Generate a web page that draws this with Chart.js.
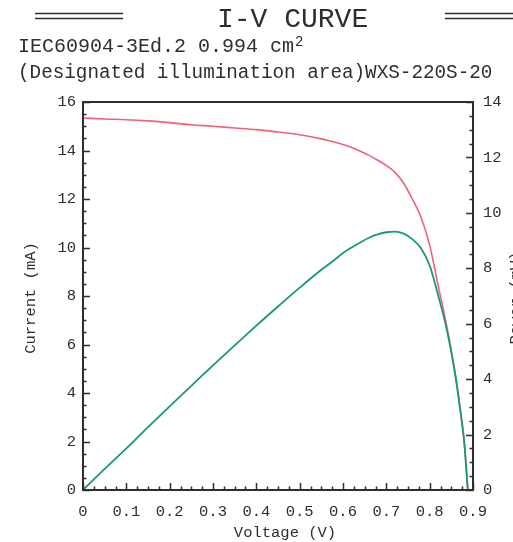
<!DOCTYPE html>
<html>
<head>
<meta charset="utf-8">
<script src="https://cdn.jsdelivr.net/npm/chart.js@4.4.1/dist/chart.umd.min.js"></script>
<style>
  html, body { margin: 0; padding: 0; background: #fff; overflow: hidden; }
  #c-iv { display: block; }
</style>
</head>
<body>
<canvas id="c-iv" width="513" height="542"></canvas>
<script>
// values
var voltage = [0, 0.05, 0.1, 0.15, 0.2, 0.25, 0.3, 0.35, 0.4, 0.45, 0.5, 0.55, 0.58, 0.6, 0.62,
  0.64, 0.66, 0.68, 0.7, 0.72, 0.74, 0.76, 0.78, 0.8, 0.82, 0.84, 0.86, 0.87, 0.88, 0.888]
var current = [15.34, 15.3, 15.27, 15.22, 15.15, 15.06, 15.0, 14.93, 14.86, 14.76, 14.65, 14.48, 14.35, 14.25, 14.12,
  13.97, 13.8, 13.6, 13.38, 13.1, 12.65, 12.0, 11.25, 10.1, 8.4, 6.7, 4.7, 3.4, 1.9, 0]
var power = [0, 0.76, 1.5, 2.27, 3.02, 3.76, 4.5, 5.22, 5.93, 6.62, 7.3, 7.95, 8.3, 8.55, 8.75,
  8.93, 9.1, 9.22, 9.3, 9.32, 9.25, 9.05, 8.72, 8.1, 7.0, 5.75, 4.05, 2.95, 1.7, 0]

var FONT = '"Liberation Mono", "DejaVu Sans Mono", monospace'
var INK = '#2e2e2e'

var pts = function(ys) {
  return voltage.map(function(v, i) { return { x: v, y: ys[i] } })
}

// inward ticks, frame and all the text around the plot
var decor = {
  id: 'decor',
  afterDatasetsDraw: function(chart) {
    var ctx = chart.ctx
    var a = chart.chartArea
    var sx = chart.scales.x, sy = chart.scales.y, sy1 = chart.scales.y1
    ctx.save()
    ctx.strokeStyle = INK
    ctx.lineWidth = 1.5
    ctx.beginPath()
    var i, p, len
    for (i = 0; i <= 36; i++) {
      p = Math.round(sx.getPixelForValue(i * 0.025)) + 0.5
      len = i % 4 === 0 ? 7 : 3.5
      ctx.moveTo(p, a.bottom); ctx.lineTo(p, a.bottom - len)
    }
    for (i = 0; i <= 32; i++) {
      p = Math.round(sy.getPixelForValue(i * 0.5)) + 0.5
      len = i % 4 === 0 ? 7 : 3.5
      ctx.moveTo(a.left, p); ctx.lineTo(a.left + len, p)
    }
    for (i = 0; i <= 28; i++) {
      p = Math.round(sy1.getPixelForValue(i * 0.5)) + 0.5
      len = i % 4 === 0 ? 7 : 3.5
      ctx.moveTo(a.right, p); ctx.lineTo(a.right - len, p)
    }
    ctx.stroke()
    ctx.lineWidth = 2
    ctx.strokeRect(a.left, a.top, a.right - a.left, a.bottom - a.top)
    ctx.restore()
  },
  afterDraw: function(chart) {
    var ctx = chart.ctx
    var a = chart.chartArea
    ctx.save()
    ctx.fillStyle = INK
    ctx.strokeStyle = INK

    // header
    ctx.lineWidth = 1.3
    ctx.beginPath()
    ctx.moveTo(35, 13.5); ctx.lineTo(123, 13.5)
    ctx.moveTo(35, 18.5); ctx.lineTo(123, 18.5)
    ctx.moveTo(445, 13.5); ctx.lineTo(513, 13.5)
    ctx.moveTo(445, 18.5); ctx.lineTo(513, 18.5)
    ctx.stroke()

    ctx.textAlign = 'left'
    ctx.textBaseline = 'alphabetic'
    ctx.font = '28px ' + FONT
    ctx.fillText('I-V CURVE', 217, 27)
    ctx.font = '20px ' + FONT
    ctx.fillText('IEC60904-3Ed.2 0.994 cm', 18, 52)
    var w = ctx.measureText('IEC60904-3Ed.2 0.994 cm').width
    ctx.font = '14px ' + FONT
    ctx.fillText('2', 18 + w + 1, 46)
    ctx.font = '19.3px ' + FONT
    ctx.fillText('(Designated illumination area)WXS-220S-20', 18, 78)

    // axis titles
    ctx.font = '15.5px ' + FONT
    ctx.textAlign = 'center'
    ctx.textBaseline = 'middle'
    ctx.fillText('Voltage (V)', 285, 533)
    ctx.save()
    ctx.translate(31, (a.top + a.bottom) / 2 + 2)
    ctx.rotate(-Math.PI / 2)
    ctx.fillText('Current (mA)', 0, 0)
    ctx.restore()
    ctx.save()
    ctx.translate(516, (a.top + a.bottom) / 2 + 2)
    ctx.rotate(-Math.PI / 2)
    ctx.fillText('Power (mW)', 0, 0)
    ctx.restore()
    ctx.restore()
  }
}

var tickFont = { family: FONT, size: 15.5 }

var config = {
  type: 'line',
  data: {
    datasets: [
      {
        label: 'Power (mW)',
        data: pts(power),
        yAxisID: 'y1',
        borderColor: '#17977c',
        borderWidth: 1.8,
        cubicInterpolationMode: 'monotone',
        pointRadius: 0,
        fill: false
      },
      {
        label: 'Current (mA)',
        data: pts(current),
        yAxisID: 'y',
        borderColor: '#f2607a',
        borderWidth: 1.6,
        cubicInterpolationMode: 'monotone',
        pointRadius: 0,
        fill: false
      }
    ]
  },
  options: {
    responsive: false,
    animation: false,
    layout: { padding: { top: 102, left: 0, right: 0, bottom: 0 } },
    plugins: {
      legend: { display: false },
      tooltip: { enabled: false }
    },
    scales: {
      x: {
        type: 'linear',
        min: 0,
        max: 0.9,
        grid: { display: false, drawTicks: false },
        border: { display: false },
        ticks: {
          stepSize: 0.1,
          padding: 13,
          maxRotation: 0,
          color: INK,
          font: tickFont,
          callback: function(v) { return v === 0 ? '0' : v.toFixed(1) }
        },
        afterFit: function(s) { s.height = 52 }
      },
      y: {
        position: 'left',
        min: 0,
        max: 16,
        grid: { display: false, drawTicks: false },
        border: { display: false },
        ticks: { stepSize: 2, padding: 7, color: INK, font: tickFont },
        afterFit: function(s) { s.width = 83 }
      },
      y1: {
        position: 'right',
        min: 0,
        max: 14,
        grid: { display: false, drawTicks: false },
        border: { display: false },
        ticks: { stepSize: 2, padding: 10, color: INK, font: tickFont },
        afterFit: function(s) { s.width = 40 }
      }
    }
  },
  plugins: [decor]
}

var ctx = document.getElementById('c-iv').getContext('2d')
new Chart(ctx, config)
</script>
</body>
</html>
